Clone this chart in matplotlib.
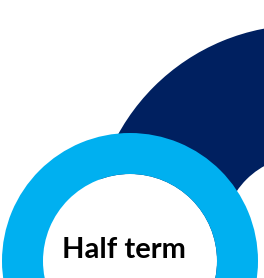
import matplotlib
matplotlib.use("Agg")
import matplotlib.pyplot as plt
from matplotlib.patches import Wedge, Circle

# ring shares (one full ring each) and the label
ring_names = ["term", "Half term"]
ring_values = [100, 100]
label = "Half term"

navy = "#002060"
cyan = "#00B0F0"

fig = plt.figure(figsize=(2.64, 2.78), dpi=100)
ax = fig.add_axes([0, 0, 1, 1])
ax.set_xlim(0, 264)
ax.set_ylim(278, 0)
ax.set_aspect("equal")
ax.axis("off")

# big dark ring, top right
ang = 360 * ring_values[0] / 100
ax.add_patch(Wedge((303, 236), 211, 0, ang, width=211 - 80, color=navy, lw=0))

# light blue ring with white inside, bottom left
ang = 360 * ring_values[1] / 100
ax.add_patch(Circle((130, 261), 87, color="white", lw=0))
ax.add_patch(Wedge((130, 261), 128, 0, ang, width=128 - 87, color=cyan, lw=0))

ax.text(124, 258, label, ha="center", va="baseline", fontsize=21,
        fontweight="bold", family="Lato", color="black")

fig.savefig("out.png", dpi=100)
